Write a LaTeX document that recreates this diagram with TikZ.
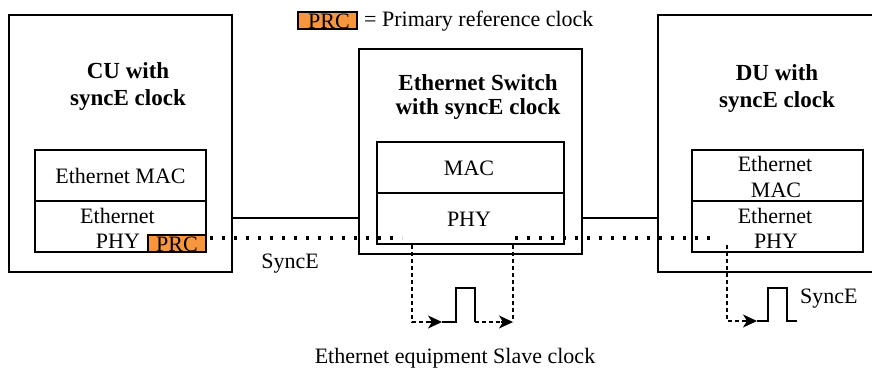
\documentclass[tikz,border=0pt]{standalone}
\usepackage{fontspec}
\setmainfont{Liberation Serif}
\usetikzlibrary{arrows.meta}
\definecolor{prc}{RGB}{247,150,60}
\tikzset{
  box/.style={draw=black, line width=1.3pt, inner sep=0pt},
  lbl/.style={anchor=base, inner sep=0pt, font=\fontsize{22}{25}\selectfont},
  ttl/.style={anchor=base, inner sep=0pt, font=\fontsize{23}{27}\selectfont\bfseries},
  prcbox/.style={draw=black, line width=1.1pt, fill=prc, inner sep=0pt},
  link/.style={line width=1.3pt},
  sync/.style={line width=3.2pt, dash pattern=on 3.2pt off 8.8pt},
  clk/.style={line width=1.3pt, dash pattern=on 4pt off 3pt},
  tip/.style={line width=1.3pt, solid, -{Stealth[length=14pt,width=13pt,inset=4pt]}},
  pulse/.style={line width=1.3pt},
}
\begin{document}
\begin{tikzpicture}[x=1pt,y=-1pt]
\useasboundingbox (0,0) rectangle (872,372);
% CU
\node (cu) [box, minimum width=223pt, minimum height=257pt] at (120.5,143.5) {};
\node (cumac) [box, minimum width=171pt, minimum height=51pt] at (120.5,175.5) {};
\node (cuphy) [box, minimum width=171pt, minimum height=51pt] at (120.5,226.5) {};
\node (cuprc) [prcbox, minimum width=58pt, minimum height=17pt] at (177,243.5) {};
\node (cut1) [ttl] at (128,78) {CU with};
\node (cut2) [ttl] at (128,105) {syncE clock};
\node (cumact) [lbl] at (120.5,183) {Ethernet MAC};
\node (cuphyt1) [lbl] at (117.5,223) {Ethernet};
\node (cuphyt2) [lbl] at (118,248) {PHY};
\node (cuprct) [lbl] at (177,251) {PRC};
% Switch
\node (sw) [box, minimum width=223pt, minimum height=205pt] at (470.5,151.5) {};
\node (swmac) [box, minimum width=187pt, minimum height=51pt] at (470.5,167.5) {};
\node (swphy) [box, minimum width=187pt, minimum height=51pt] at (470.5,218.5) {};
\node (swt1) [ttl] at (478,90) {Ethernet Switch};
\node (swt2) [ttl] at (478,114) {with syncE clock};
\node (swmact) [lbl] at (469,175) {MAC};
\node (swphyt) [lbl] at (469,226) {PHY};
% DU
\node (du) [box, minimum width=226pt, minimum height=257pt] at (771,143.5) {};
\node (dumac) [box, minimum width=171pt, minimum height=51pt] at (777.5,175.5) {};
\node (duphy) [box, minimum width=171pt, minimum height=51pt] at (777.5,226.5) {};
\node (dut1) [ttl] at (777,80) {DU with};
\node (dut2) [ttl] at (777,107) {syncE clock};
\node (dumact1) [lbl] at (775,171) {Ethernet};
\node (dumact2) [lbl] at (776,197) {MAC};
\node (duphyt1) [lbl] at (775,223) {Ethernet};
\node (duphyt2) [lbl] at (776,248) {PHY};
% legend
\node (legprc) [prcbox, minimum width=59pt, minimum height=17pt] at (327.5,20.5) {};
\node (legprct) [lbl] at (329,28) {PRC};
\node (legt) [lbl, anchor=base west] at (364,27) {= Primary reference clock};
% links
\draw[link] (cu.east |- 0,218) -- (sw.west |- 0,218);
\draw[link] (sw.east |- 0,218) -- (du.west |- 0,218);
% SyncE dotted
\coordinate (d1s) at (210,238);
\coordinate (d1e) at (402,238);
\coordinate (d2s) at (515,238);
\coordinate (d2e) at (712,238);
\draw[sync] (d1s) -- (d1e);
\draw[sync] (d2s) -- (d2e);
\node (synce1) [lbl] at (290,268) {SyncE};
% switch clock
\coordinate (sa) at (412,245);
\coordinate (sb) at (412,322);
\coordinate (sc) at (442,322);
\coordinate (sd) at (475,322);
\coordinate (se) at (513,322);
\coordinate (sf) at (513,245);
\draw[clk] (sa) -- (sb) -- ([xshift=-10pt]sc);
\draw[tip] ([xshift=-12pt]sc) -- (sc);
\draw[pulse] (sc) -- (456,322) -- (456,288) -- (475,288) -- (sd);
\draw[clk] (sd) -- ([xshift=-10pt]se);
\draw[tip] ([xshift=-12pt]se) -- (se);
\draw[clk] (sf) -- (se);
% DU clock
\coordinate (da) at (727,245);
\coordinate (db) at (727,321);
\coordinate (dc) at (757,321);
\draw[clk] (da) -- (db) -- ([xshift=-10pt]dc);
\draw[tip] ([xshift=-12pt]dc) -- (dc);
\draw[pulse] (dc) -- (768,321) -- (768,288) -- (787,288) -- (787,321) -- (797,321);
\node (synce2) [lbl, anchor=base west] at (800,303) {SyncE};
% bottom
\node (slave) [lbl] at (455,363) {Ethernet equipment Slave clock};
\end{tikzpicture}
\end{document}
